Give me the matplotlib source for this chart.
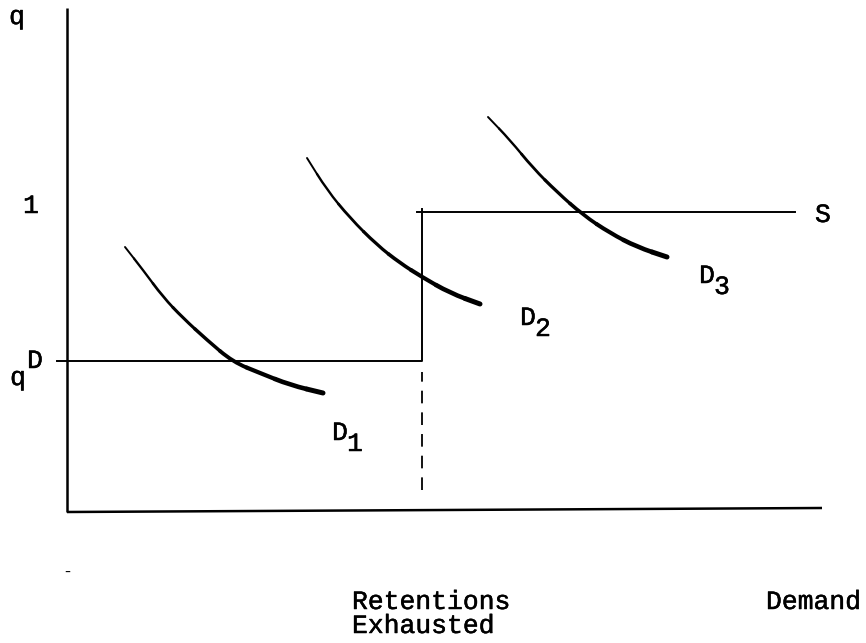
import matplotlib
matplotlib.use("Agg")
import matplotlib.pyplot as plt
import matplotlib.patheffects as pe
import numpy as np
from matplotlib.path import Path
from matplotlib.patches import PathPatch

# units: horizontal = demand, vertical = q, origin at the axes corner
d1_x = [58, 76, 96, 116, 140, 166, 193, 223, 256]
d1_q = [265, 242, 215, 194, 172, 150, 139, 127, 119]
d2_x = [240, 260, 283, 310, 333, 355, 383, 413]
d2_q = [354, 322, 294, 267, 249, 235, 219, 208]
d3_x = [421, 443, 466, 490, 516, 543, 570, 600]
d3_q = [395, 372, 344, 320, 297, 279, 265, 255]

# supply step: q^D until retentions are exhausted, then 1
supply_x = [-10, 355, 355, 728]
supply_q = [151, 151, 300, 300]
s_upper_start = 350
retentions_x = 355
dash_q = [22, 140]

x_axis_x = [0, 755]
x_axis_q = [0, 4]
y_axis_top = 504

plt.rcParams['font.family'] = ['Liberation Mono', 'DejaVu Sans Mono']

fig = plt.figure(figsize=(8.66, 6.43), dpi=100)
ax = fig.add_axes([0, 0, 1, 1])
ax.set_xlim(-67, 799)
ax.set_ylim(-131, 512)
ax.axis('off')

# axes lines
ax.plot([0, 0], [0, y_axis_top], color='black', lw=1.8, solid_capstyle='butt')
ax.plot(x_axis_x, x_axis_q, color='black', lw=1.8, solid_capstyle='butt')

# supply
ax.plot(supply_x[:3], supply_q[:3], color='black', lw=1.4)
ax.plot([s_upper_start, supply_x[3]], [supply_q[3], supply_q[3]], color='black', lw=1.4)
ax.plot([retentions_x, retentions_x], [supply_q[2], supply_q[2] + 3], color='black', lw=1.4)
ax.plot([retentions_x, retentions_x], dash_q, color='black', lw=1.3,
        linestyle=(0, (7, 5)))


# demand curves: smooth quadratic pieces through the read points,
# thin at the top and heavier toward the lower end (pen pressure)
def demand_curve(xs, qs):
    p = np.column_stack([xs, qs]).astype(float)
    mids = (p[:-1] + p[1:]) / 2
    pieces = [[p[0], mids[0]]]
    codes = [[Path.MOVETO, Path.LINETO]]
    for i in range(1, len(p) - 1):
        pieces.append([mids[i - 1], p[i], mids[i]])
        codes.append([Path.MOVETO, Path.CURVE3, Path.CURVE3])
    pieces.append([mids[-1], p[-1]])
    codes.append([Path.MOVETO, Path.LINETO])
    widths = np.linspace(1.4, 3.6, len(pieces))
    for verts, c, w in zip(pieces, codes, widths):
        ax.add_patch(PathPatch(Path(verts, c), fill=False, edgecolor='black',
                               lw=w, capstyle='round', joinstyle='round'))


demand_curve(d1_x, d1_q)
demand_curve(d2_x, d2_q)
demand_curve(d3_x, d3_q)

fs = 19
# typewriter ink is a bit heavier than the regular mono face
ink = [pe.withStroke(linewidth=0.35, foreground='black')]


def label(x, q, s, **kw):
    kw.setdefault('ha', 'center')
    ax.text(x, q, s, fontsize=kw.pop('size', fs), va='center',
            path_effects=ink, **kw)


# vertical axis labels
label(-50, 495, 'q')
label(-36, 306, '1')
label(-49, 134, 'q')
label(-32, 151, 'D')
ax.text(0, -60, '-', fontsize=12, ha='center', va='center')

# curve labels
label(748, 297, 'S', ha='left')

for (x, q, sub) in [(273, 79, '1'), (461, 194, '2'), (640, 236, '3')]:
    label(x, q, 'D')
    label(x + 15, q - 11, sub)

# horizontal axis labels
label(285, -90, 'Retentions', ha='left')
label(285, -114, 'Exhausted', ha='left')
label(699, -90, 'Demand', ha='left')

fig.savefig('out.png', dpi=100, facecolor='white')
